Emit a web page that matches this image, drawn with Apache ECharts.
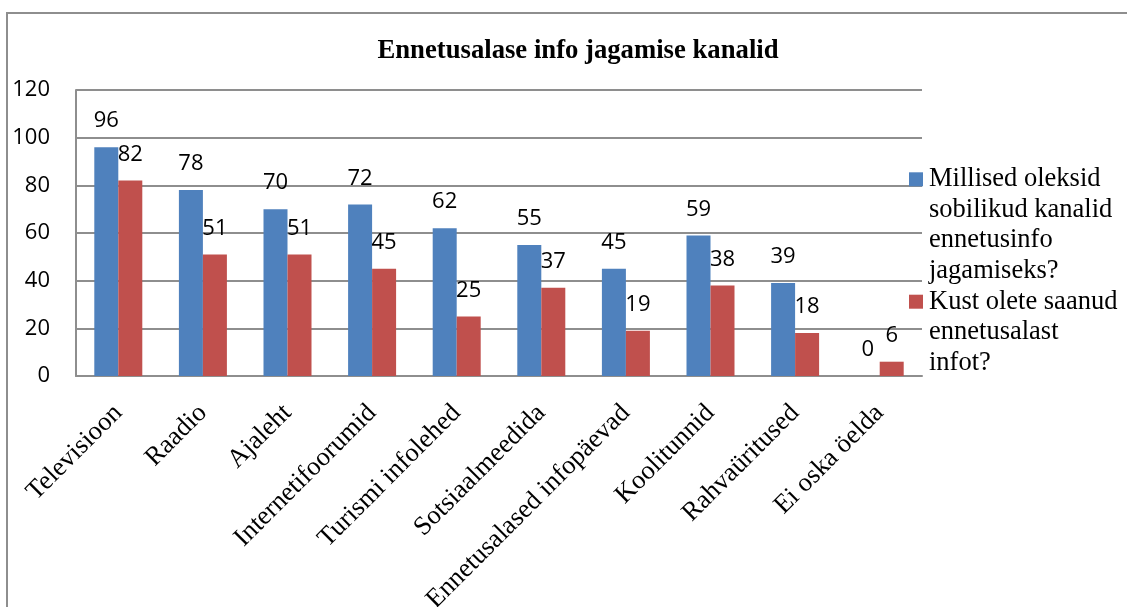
<!DOCTYPE html>
<html>
<head>
<meta charset="utf-8">
<script src="https://cdn.jsdelivr.net/npm/echarts@6/dist/echarts.min.js"></script>
<style>
    html, body { margin: 0; padding: 0; background: #fff; }
    #wrap { position: relative; width: 1127px; height: 607px; overflow: hidden; }
    #frame { position: absolute; left: 6px; top: 12px; right: -4px; bottom: -4px; border-left: 2px solid #8e8e8e; border-top: 2px solid #8e8e8e; }
    #chart { position: absolute; left: 0; top: 0; width: 1127px; height: 607px; }
</style>
</head>
<body>
<div id="wrap">
    <div id="frame"></div>
    <div id="chart"></div>
</div>
<script>
    // andmed
    const titleText = 'Ennetusalase info jagamise kanalid';
    const categories = ['Televisioon', 'Raadio', 'Ajaleht', 'Internetifoorumid', 'Turismi infolehed',
        'Sotsiaalmeedida', 'Ennetusalased infopäevad', 'Koolitunnid', 'Rahvaüritused', 'Ei oska öelda'];
    const seriesNames = ['Millised oleksid sobilikud kanalid ennetusinfo jagamiseks?', 'Kust olete saanud ennetusalast infot?'];
    const suitableValues = [96, 78, 70, 72, 62, 55, 45, 59, 39, 0];
    const receivedValues = [82, 51, 51, 45, 25, 37, 19, 38, 18, 6];
    const legendLines = [
        ['Millised oleksid', 'sobilikud kanalid', 'ennetusinfo', 'jagamiseks?'],
        ['Kust olete saanud', 'ennetusalast', 'infot?']
    ];
    const yTicks = { min: 0, max: 120, interval: 20 };

    const colors = ['#4F81BD', '#C0504D'];
    const serif = '"Liberation Serif", "Times New Roman", serif';
    const sans = '"Open Sans", "Liberation Sans", sans-serif';
    const lh = 30.6;

    const chart = echarts.init(document.getElementById('chart'));

    const labelStyle = {
        show: true,
        position: 'top',
        distance: 15,
        color: '#000',
        fontFamily: sans,
        fontSize: 22
    };

    const option = {
        animation: false,
        title: {
            text: titleText,
            left: 573,
            top: 33,
            textAlign: 'center',
            textStyle: { fontFamily: serif, fontWeight: 'bold', fontSize: 26.7, color: '#000' }
        },
        grid: { left: 76, right: 205, top: 90, bottom: 231, outerBoundsMode: 'none', containLabel: false },
        legend: {
            orient: 'vertical',
            left: 899,
            top: 159,
            itemWidth: 0,
            itemHeight: 0,
            itemGap: 0,
            icon: 'rect',
            data: seriesNames,
            formatter: function (name) {
                const idx = seriesNames.indexOf(name);
                const lines = legendLines[idx];
                const sq = idx === 0 ? 'b' : 'r';
                return lines.map((l, i) => (i === 0 ? '{' + sq + '|}{g|}' : '{i|}') + '{t|' + l + '}').join('\n');
            },
            textStyle: {
                fontFamily: serif,
                fontSize: 26.5,
                lineHeight: lh,
                color: '#000',
                rich: {
                    b: { width: 14, height: 14, backgroundColor: colors[0], lineHeight: lh },
                    r: { width: 14, height: 14, backgroundColor: colors[1], lineHeight: lh },
                    g: { width: 6, lineHeight: lh },
                    i: { width: 20, lineHeight: lh },
                    t: { fontFamily: serif, fontSize: 26.5, lineHeight: lh, color: '#000' }
                }
            }
        },
        xAxis: {
            type: 'category',
            data: categories,
            axisLine: { show: true, lineStyle: { color: '#8e8e8e', width: 2 } },
            axisTick: { show: false },
            axisLabel: {
                interval: 0,
                rotate: 45,
                margin: 33,
                color: '#000',
                fontFamily: serif,
                fontSize: 26.5
            }
        },
        yAxis: {
            type: 'value',
            min: yTicks.min,
            max: yTicks.max,
            interval: yTicks.interval,
            axisLine: { show: true, lineStyle: { color: '#8e8e8e', width: 2 } },
            axisTick: { show: false },
            splitLine: { lineStyle: { color: '#8e8e8e', width: 2 } },
            axisLabel: { margin: 26, color: '#000', fontFamily: sans, fontSize: 22 }
        },
        series: [
            {
                name: seriesNames[0],
                type: 'bar',
                data: suitableValues,
                barWidth: 24,
                barGap: '0%',
                itemStyle: { color: colors[0] },
                label: labelStyle
            },
            {
                name: seriesNames[1],
                type: 'bar',
                data: receivedValues,
                barWidth: 24,
                barGap: '0%',
                itemStyle: { color: colors[1] },
                label: labelStyle
            }
        ]
    };

    chart.setOption(option);
</script>
</body>
</html>
